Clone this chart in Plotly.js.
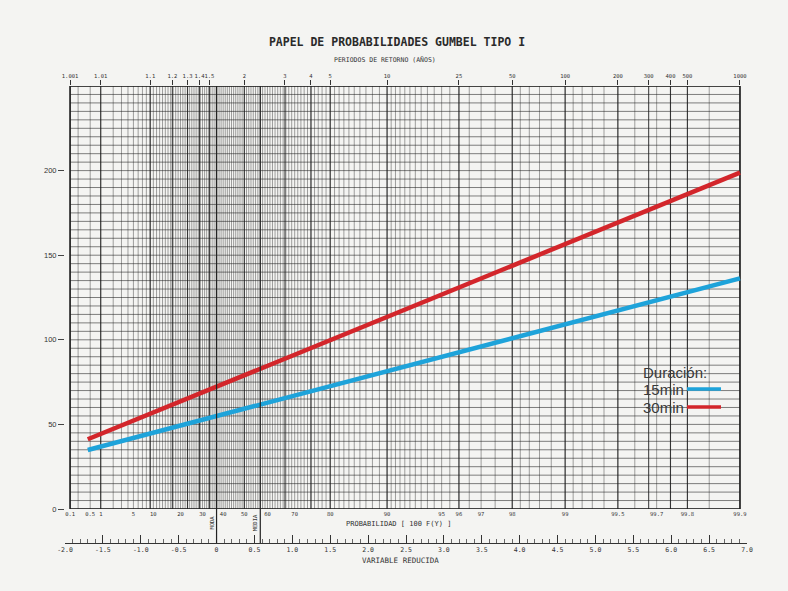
<!DOCTYPE html>
<html><head><meta charset="utf-8">
<script src="https://cdn.plot.ly/plotly-3.0.1.min.js"></script>
<style>html,body{margin:0;padding:0;background:#f4f4f2;}</style>
</head><body><div id="chart" style="width:788px;height:591px;"></div>
<script>
// ---------------- DATA ----------------
const duraciones = ['15min', '30min'];
const variableReducida = [-1.70, 6.907];      // extremos de las rectas (variable reducida y)
const lluvia15 = [34.9, 136.3];
const lluvia30 = [41.2, 198.8];

const yTickVals = [0, 50, 100, 150, 200];
const periodos = [1.001, 1.01, 1.1, 1.2, 1.3, 1.4, 1.5, 2, 3, 4, 5, 10, 25, 50, 100, 200, 300, 400, 500, 1000];
const periodosText = ['1.001','1.01','1.1','1.2','1.3','1.4','1.5','2','3','4','5','10','25','50','100','200','300','400','500','1000'];
const probLabels = [0.1, 0.5, 1, 5, 10, 20, 30, 40, 50, 60, 70, 80, 90, 95, 96, 97, 98, 99, 99.5, 99.7, 99.8, 99.9];
const probText = ['0.1','0.5','1','5','10','20','30','40','50','60','70','80','90','95','96','97','98','99','99.5','99.7','99.8','99.9'];
const reducidaTicks = [-2, -1.5, -1, -0.5, 0, 0.5, 1, 1.5, 2, 2.5, 3, 3.5, 4, 4.5, 5, 5.5, 6, 6.5, 7];
const reducidaText = ['-2.0','-1.5','-1.0','-0.5','0','0.5','1.0','1.5','2.0','2.5','3.0','3.5','4.0','4.5','5.0','5.5','6.0','6.5','7.0'];
// grid of the probability paper (percent of non-exceedance)
const gridPctFixed = [0.1, 0.2, 0.5, 1, 99.75, 99.85];
const gridPctSteps = [[2, 90, 1], [90.5, 98, 0.5], [98.2, 99, 0.2], [99.1, 99.9, 0.1]];
const gridValueStep = 5;
const yMax = 250;
const moda = 0, media = 0.5772;

// ---------------- HELPERS ----------------
const redF = F => -Math.log(-Math.log(F));
const redPct = p => redF(p / 100);
const redT = T => redF(1 - 1 / T);
const ML = 65, MR = 41, MT = 86, MB = 48, W = 788, H = 591;
const PW = W - ML - MR, PH = H - MT - MB;
const px = x => (x - ML) / PW;
const py = y => (H - MB - y) / PH;
const yDomain0 = py(509);

let gridPct = gridPctFixed.slice();
gridPctSteps.forEach(([a, b, s]) => { for (let v = a; v <= b + 1e-9; v += s) gridPct.push(Math.round(v * 100) / 100); });
gridPct.sort((a, b) => a - b);
const xL = redPct(0.1), xR = redPct(99.9);

const vx = [], vy = [];
gridPct.forEach(p => { const r = redPct(p); vx.push(r, r, null); vy.push(0, yMax, null); });
const hx = [], hy = [];
for (let v = 0; v <= yMax; v += gridValueStep) { hx.push(xL, xR, null); hy.push(v, v, null); }
const mx = [], my = [];
periodos.forEach(T => { const r = redT(T); mx.push(r, r, null); my.push(0, yMax, null); });

const traces = [
  {x: vx, y: vy, mode: 'lines', line: {color: 'rgba(35,35,35,0.55)', width: 0.75}, hoverinfo: 'skip', showlegend: false},
  {x: hx, y: hy, mode: 'lines', line: {color: 'rgba(30,30,30,0.7)', width: 0.8}, hoverinfo: 'skip', showlegend: false},
  {x: mx, y: my, mode: 'lines', line: {color: 'rgba(25,25,25,0.8)', width: 1.1}, hoverinfo: 'skip', showlegend: false},
  {x: [xL, xR, xR, xL, xL], y: [0, 0, yMax, yMax, 0], mode: 'lines', line: {color: '#1e1e1e', width: 1.3}, hoverinfo: 'skip', showlegend: false},
  {x: variableReducida, y: lluvia15, name: duraciones[0], mode: 'lines', line: {color: '#1ea3da', width: 4.5}, showlegend: false},
  {x: variableReducida, y: lluvia30, name: duraciones[1], mode: 'lines', line: {color: '#d3262b', width: 4.5}, showlegend: false},
  {x: variableReducida, y: lluvia15, xaxis: 'x2', mode: 'lines', opacity: 0, hoverinfo: 'skip', showlegend: false},
  {x: variableReducida, y: lluvia15, xaxis: 'x3', mode: 'lines', opacity: 0, hoverinfo: 'skip', showlegend: false}
];

const mono = 'DejaVu Sans Mono';
const txt = '#333';
const baseX = {range: [-2, 7], showgrid: false, zeroline: false, fixedrange: true, tickangle: 0};

function ann(text, x, y, font, extra) {
  return Object.assign({text: text, xref: 'paper', yref: 'paper', x: px(x), y: py(y), xanchor: 'center', yanchor: 'middle',
                        showarrow: false, font: font}, extra || {});
}

const layout = {
  width: W, height: H,
  margin: {l: ML, r: MR, t: MT, b: MB, pad: 0},
  paper_bgcolor: '#f4f4f2', plot_bgcolor: '#f4f4f2',
  showlegend: false,
  title: {text: 'PAPEL DE PROBABILIDADES GUMBEL TIPO I', x: 397 / W, xanchor: 'center', y: 1 - 42 / H, yanchor: 'middle',
          font: {family: mono, size: 11.5, color: '#2a2a2a', weight: 'bold'}},
  xaxis: Object.assign({}, baseX, {
    anchor: 'free', position: 0, side: 'bottom',
    showline: true, linecolor: '#333', linewidth: 1,
    tickmode: 'array', tickvals: reducidaTicks, ticktext: reducidaText,
    ticks: 'inside', ticklen: 8, tickcolor: '#333', tickwidth: 1,
    minor: {dtick: 0.1, tick0: 0, ticks: 'inside', ticklen: 4, tickcolor: '#444', tickwidth: 0.8},
    tickfont: {family: mono, size: 6.5, color: txt}
  }),
  xaxis2: Object.assign({}, baseX, {
    overlaying: 'x', anchor: 'y', side: 'top', showline: false,
    tickmode: 'array', tickvals: periodos.map(redT), ticktext: periodosText,
    ticks: 'outside', ticklen: 5, tickcolor: '#333', tickwidth: 1,
    tickfont: {family: mono, size: 5.5, color: txt}
  }),
  xaxis3: Object.assign({}, baseX, {
    overlaying: 'x', anchor: 'y', side: 'bottom', showline: false,
    tickmode: 'array', tickvals: probLabels.map(redPct), ticktext: probText,
    ticks: '', tickfont: {family: mono, size: 5.5, color: txt}
  }),
  yaxis: {
    domain: [yDomain0, 1], range: [0, yMax], anchor: 'x', showgrid: false, zeroline: false, showline: false,
    tickmode: 'array', tickvals: yTickVals, ticks: 'outside', ticklen: 6, tickcolor: '#444',
    tickfont: {family: 'Liberation Sans', size: 7.5, color: txt}, fixedrange: true
  },
  shapes: [
    {type: 'line', xref: 'x', yref: 'paper', x0: moda, x1: moda, y0: 0, y1: 1, line: {color: '#222', width: 1.2}},
    {type: 'line', xref: 'x', yref: 'paper', x0: media, x1: media, y0: 0, y1: 1, line: {color: '#222', width: 1.2}},
    {type: 'line', xref: 'paper', yref: 'paper', x0: px(687), x1: px(721), y0: py(389), y1: py(389), line: {color: '#1ea3da', width: 3.5}},
    {type: 'line', xref: 'paper', yref: 'paper', x0: px(687), x1: px(721), y0: py(407), y1: py(407), line: {color: '#d3262b', width: 3.5}}
  ],
  annotations: [
    ann('PERIODOS DE RETORNO (AÑOS)', 385, 60, {family: mono, size: 6.5, color: txt}),
    ann('PROBABILIDAD [ 100 F(Y) ]', 398, 524, {family: mono, size: 7, color: txt}),
    ann('VARIABLE REDUCIDA', 400, 560, {family: mono, size: 7.5, color: txt}),
    Object.assign(ann('MODA', 0, 523, {family: mono, size: 5.5, color: txt}), {xref: 'x', x: moda, xshift: -5, textangle: -90}),
    Object.assign(ann('MEDIA', 0, 523, {family: mono, size: 5.5, color: txt}), {xref: 'x', x: media, xshift: -5, textangle: -90}),
    ann('Duración:', 641, 372, {family: 'Liberation Sans', size: 15, color: '#3a3a3a'}, {xanchor: 'left'}),
    ann(duraciones[0], 641, 389, {family: 'Liberation Sans', size: 15, color: '#3a3a3a'}, {xanchor: 'left'}),
    ann(duraciones[1], 641, 407, {family: 'Liberation Sans', size: 15, color: '#3a3a3a'}, {xanchor: 'left'})
  ]
};

Plotly.newPlot('chart', traces, layout, {staticPlot: true, displayModeBar: false});
</script>
</body></html>
